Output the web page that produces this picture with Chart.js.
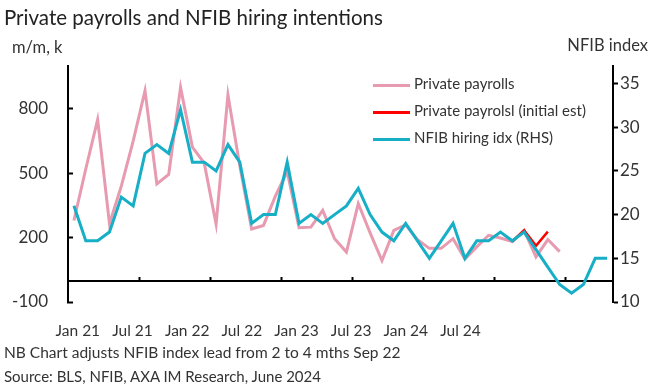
<!DOCTYPE html>
<html>
<head>
<meta charset="utf-8">
<script src="https://cdn.jsdelivr.net/npm/chart.js@4.4.1/dist/chart.umd.min.js"></script>
<style>
  body { margin: 0; background: #fff; }
  #wrap { position: relative; width: 655px; height: 392px; font-family: Lato, "Liberation Sans", sans-serif; color: #333; }
  #wrap canvas { position: absolute; left: 0; top: 0; }
  .txt { position: absolute; white-space: nowrap; line-height: 1; }
  .leg { position: absolute; left: 373px; font-size: 15px; line-height: 1; white-space: nowrap; }
  .leg span { display: inline-block; width: 37px; height: 3px; vertical-align: middle; margin-right: 4px; }
</style>
</head>
<body>
<div id="wrap">
  <canvas id="payrollChart" width="655" height="392"></canvas>
  <div class="txt" style="left:4px; top:7px; font-size:20.5px; color:#222;">Private payrolls and NFIB hiring intentions</div>
  <div class="txt" style="left:12px; top:39px; font-size:16.5px;">m/m, k</div>
  <div class="txt" style="right:7px; top:37px; font-size:16.5px;">NFIB index</div>
  <div class="leg" style="top:76px;"><span style="background:#E79AB0;"></span>Private payrolls</div>
  <div class="leg" style="top:103px;"><span style="background:#FF0000;"></span>Private payrolsl (initial est)</div>
  <div class="leg" style="top:130px;"><span style="background:#17AFC6;"></span>NFIB hiring idx (RHS)</div>
  <div class="txt" style="left:4px; top:345px; font-size:15.5px;">NB Chart adjusts NFIB index lead from 2 to 4 mths Sep 22</div>
  <div class="txt" style="left:4px; top:369px; font-size:15px;">Source: BLS, NFIB, AXA IM Research, June 2024</div>
</div>
<script>
// Monthly categories, NFIB index plotted with its lead
const months = [
    'Jan 21', 'Feb 21', 'Mar 21', 'Apr 21', 'May 21', 'Jun 21', 'Jul 21', 'Aug 21', 'Sep 21', 'Oct 21', 'Nov 21', 'Dec 21',
    'Jan 22', 'Feb 22', 'Mar 22', 'Apr 22', 'May 22', 'Jun 22', 'Jul 22', 'Aug 22', 'Sep 22', 'Oct 22', 'Nov 22', 'Dec 22',
    'Jan 23', 'Feb 23', 'Mar 23', 'Apr 23', 'May 23', 'Jun 23', 'Jul 23', 'Aug 23', 'Sep 23', 'Oct 23', 'Nov 23', 'Dec 23',
    'Jan 24', 'Feb 24', 'Mar 24', 'Apr 24', 'May 24', 'Jun 24', 'Jul 24', 'Aug 24', 'Sep 24', 'Oct 24'
];

// Private payrolls, m/m change in thousands
const privatePayrolls = [280, 520, 750, 265, 440, 650, 885, 450, 495, 900, 622, 547,
    263, 865, 535, 240, 257, 393, 508, 246, 249, 327, 195, 133,
    359, 222, 93, 234, 260, 190, 150, 150, 195, 100, 157, 211,
    198, 182, 234, 110, 191, 135];

// First prints for the latest months
const initialEstimate = [null, null, null, null, null, null, null, null, null, null, null, null,
    null, null, null, null, null, null, null, null, null, null, null, null,
    null, null, null, null, null, null, null, null, null, null, null, null,
    null, 182, 234, 162, 228];

// NFIB hiring plans index (RHS)
const nfibHiring = [21, 17, 17, 18, 22, 21, 27, 28, 27, 32, 26, 26,
    25, 28, 26, 19, 20, 20, 26, 19, 20, 19, 20, 21,
    23, 20, 18, 17, 19, 17, 15, 17, 19, 15, 17, 17,
    18, 17, 18, 16, 14, 12, 11, 12, 15, 15];

// Axis ticks
const leftTicks = [-100, 200, 500, 800];
const rightTicks = [10, 15, 20, 25, 30, 35];
const dateLabels = ['Jan 21', 'Jul 21', 'Jan 22', 'Jul 22', 'Jan 23', 'Jul 23', 'Jan 24', 'Jul 24'];

const tickFont = { family: 'Lato', size: 17 };
const black = '#000';

const ctx = document.getElementById('payrollChart').getContext('2d');
const payrollChart = new Chart(ctx, {
    type: 'line',
    data: {
        labels: months,
        datasets: [
            {
                label: 'Private payrolls',
                data: privatePayrolls,
                borderColor: '#E79AB0',
                borderWidth: 3,
                yAxisID: 'y',
                order: 2
            },
            {
                label: 'Private payrolsl (initial est)',
                data: initialEstimate,
                borderColor: '#FF0000',
                borderWidth: 2.5,
                yAxisID: 'y',
                order: 1
            },
            {
                label: 'NFIB hiring idx (RHS)',
                data: nfibHiring,
                borderColor: '#17AFC6',
                borderWidth: 3,
                yAxisID: 'y2',
                order: 0
            }
        ]
    },
    options: {
        responsive: false,
        animation: false,
        layout: { padding: { left: 0, right: 0, top: 66, bottom: 50 } },
        elements: {
            point: { radius: 0 },
            line: { tension: 0, borderJoinStyle: 'miter' }
        },
        plugins: {
            legend: { display: false },
            tooltip: { enabled: false }
        },
        scales: {
            x: {
                type: 'category',
                position: { y: 0 },
                offset: true,
                border: { color: black, width: 2 },
                grid: {
                    offset: true,
                    drawOnChartArea: false,
                    tickLength: -5,
                    tickWidth: 2,
                    tickColor: (c) => (c.index > 0 && c.index % 6 === 0) ? black : 'rgba(0,0,0,0)'
                },
                ticks: { display: false, autoSkip: false }
            },
            xl: {
                type: 'linear',
                position: 'bottom',
                min: -0.18,
                max: 9.79,
                border: { display: false },
                grid: { display: false },
                afterBuildTicks: (s) => { s.ticks = dateLabels.map((_, i) => ({ value: i })); },
                afterFit: (s) => { s.height = 40; },
                ticks: {
                    padding: 12,
                    color: '#333',
                    font: { family: 'Lato', size: 15.5 },
                    callback: (v) => dateLabels[v]
                }
            },
            y: {
                position: 'left',
                min: -100,
                max: 1000,
                border: { color: black, width: 2 },
                grid: { drawOnChartArea: false, tickLength: -5, tickWidth: 2, tickColor: black },
                afterBuildTicks: (s) => { s.ticks = leftTicks.map(v => ({ value: v })); },
                afterFit: (s) => { s.width = 68; },
                ticks: { padding: 25, color: '#333', font: tickFont }
            },
            y2: {
                position: 'right',
                min: 10,
                max: 37,
                border: { color: black, width: 2 },
                grid: { drawOnChartArea: false, tickLength: 5, tickWidth: 2, tickColor: black },
                afterBuildTicks: (s) => { s.ticks = rightTicks.map(v => ({ value: v })); },
                afterFit: (s) => { s.width = 42; },
                ticks: { padding: 2, color: '#333', font: tickFont }
            }
        }
    }
});
</script>
</body>
</html>
